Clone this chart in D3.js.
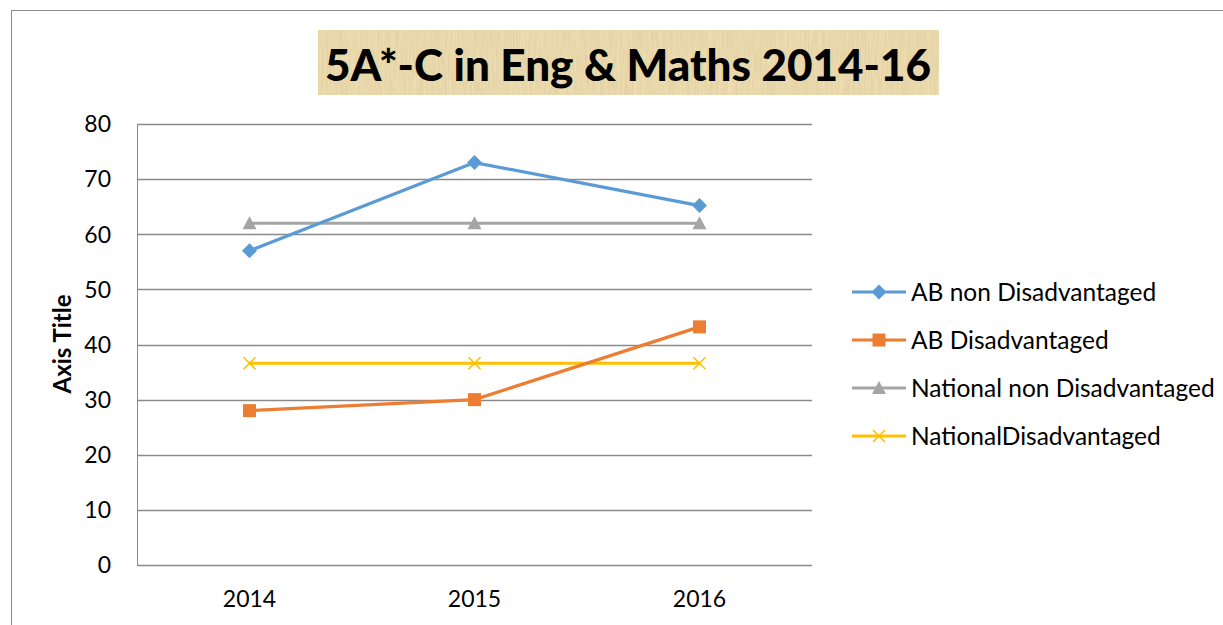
<!DOCTYPE html>
<html>
<head>
<meta charset="utf-8">
<script src="https://cdn.jsdelivr.net/npm/d3@7"></script>
<style>
  body { margin: 0; background: #fff; }
  svg text { font-family: Lato, "Open Sans", sans-serif; fill: #000; }
</style>
</head>
<body>
<div id="chart"></div>
<script>
// dimensions de la page
const width = 1223;
const height = 625;

// données
const years = ["2014", "2015", "2016"];
const abNonDisadv = [57, 73, 65.2];
const abDisadv = [28, 30, 43.2];
const natNonDisadv = [62, 62, 62];
const natDisadv = [36.6, 36.6, 36.6];
const yTicks = [0, 10, 20, 30, 40, 50, 60, 70, 80];

const seriesNames = ["AB non Disadvantaged", "AB Disadvantaged", "National non Disadvantaged", "NationalDisadvantaged"];
const seriesColors = ["#5B9BD5", "#ED7D31", "#A5A5A5", "#FFC000"];
const seriesShapes = ["diamond", "square", "triangle", "cross"];
const seriesValues = [abNonDisadv, abDisadv, natNonDisadv, natDisadv];

const series = seriesNames.map((name, i) => ({
    name: name,
    color: seriesColors[i],
    shape: seriesShapes[i],
    values: seriesValues[i]
}));

const plot = { left: 137, right: 812, top: 124, bottom: 565 };

const svg = d3.select("#chart")
    .append("svg")
    .attr("width", width)
    .attr("height", height);

// texture papyrus pour le titre
const defs = svg.append("defs");
const filt = defs.append("filter").attr("id", "papyrus")
    .attr("x", 0).attr("y", 0).attr("width", 1).attr("height", 1);
filt.append("feTurbulence")
    .attr("type", "fractalNoise")
    .attr("baseFrequency", "0.6 0.04")
    .attr("numOctaves", 3)
    .attr("seed", 4)
    .attr("result", "noise");
filt.append("feColorMatrix")
    .attr("in", "noise")
    .attr("type", "matrix")
    .attr("values", "0 0 0 0 0.6  0 0 0 0 0.48  0 0 0 0 0.25  0 0 0 0.5 0")
    .attr("result", "tint");
filt.append("feComposite").attr("in", "tint").attr("in2", "SourceGraphic").attr("operator", "in");

// cadre extérieur
svg.append("rect")
    .attr("x", 11.5).attr("y", 10.5)
    .attr("width", 1240).attr("height", 640)
    .attr("fill", "#fff")
    .attr("stroke", "#8c8c8c");

// titre
svg.append("rect")
    .attr("x", 318).attr("y", 30).attr("width", 621).attr("height", 65)
    .attr("fill", "#F2E2B6");
svg.append("rect")
    .attr("x", 318).attr("y", 30).attr("width", 621).attr("height", 65)
    .attr("fill", "#fff")
    .attr("filter", "url(#papyrus)");
svg.append("text")
    .attr("x", 628).attr("y", 81)
    .attr("text-anchor", "middle")
    .attr("font-size", 44)
    .attr("font-weight", "900")
    .text("5A*-C in Eng & Maths 2014-16");

// échelles
const x = d3.scaleBand().domain(years).range([plot.left, plot.right]);
const y = d3.scaleLinear().domain([0, 80]).range([plot.bottom, plot.top]);

// grille horizontale
svg.append("g")
    .selectAll("line")
    .data(yTicks)
    .join("line")
    .attr("x1", plot.left).attr("x2", plot.right)
    .attr("y1", d => Math.round(y(d)) + 0.5)
    .attr("y2", d => Math.round(y(d)) + 0.5)
    .attr("stroke", "#8a8a8a")
    .attr("stroke-width", 1.3);

// axe vertical (ligne de gauche)
svg.append("line")
    .attr("x1", plot.left + 0.5).attr("x2", plot.left + 0.5)
    .attr("y1", plot.top).attr("y2", plot.bottom)
    .attr("stroke", "#8a8a8a");

// étiquettes Y
svg.append("g")
    .selectAll("text")
    .data(yTicks)
    .join("text")
    .attr("x", 111)
    .attr("y", d => y(d))
    .attr("dy", "0.36em")
    .attr("text-anchor", "end")
    .attr("font-size", 23)
    .text(d => d);

// étiquettes X
svg.append("g")
    .selectAll("text")
    .data(years)
    .join("text")
    .attr("x", d => x(d) + x.bandwidth() / 2)
    .attr("y", 607)
    .attr("text-anchor", "middle")
    .attr("font-size", 23)
    .text(d => d);

// titre de l'axe
svg.append("text")
    .attr("transform", "translate(71,344) rotate(-90)")
    .attr("text-anchor", "middle")
    .attr("font-size", 24)
    .attr("font-weight", "bold")
    .text("Axis Title");

// marqueurs
function drawMarker(g, shape, color) {
    if (shape === "diamond") {
        g.append("path").attr("d", "M0,-7.5L7.5,0L0,7.5L-7.5,0Z").attr("fill", color);
    } else if (shape === "square") {
        g.append("rect").attr("x", -6.5).attr("y", -6.5).attr("width", 13).attr("height", 13).attr("fill", color);
    } else if (shape === "triangle") {
        g.append("path").attr("d", "M0,-7L7,6L-7,6Z").attr("fill", color);
    } else {
        g.append("path").attr("d", "M-6,-6L6,6M-6,6L6,-6").attr("stroke", color).attr("stroke-width", 1.6).attr("fill", "none");
    }
}

const line = d3.line()
    .x((d, i) => x(years[i]) + x.bandwidth() / 2)
    .y(d => y(d));

// séries (dessinées dans l'ordre inverse pour que la bleue soit au-dessus)
const seriesG = svg.append("g");
series.slice().reverse().forEach(s => {
    const g = seriesG.append("g");
    g.append("path")
        .attr("d", line(s.values))
        .attr("fill", "none")
        .attr("stroke", s.color)
        .attr("stroke-width", 3.2)
        .attr("stroke-linejoin", "round");
    s.values.forEach((v, i) => {
        const m = g.append("g")
            .attr("transform", `translate(${x(years[i]) + x.bandwidth() / 2},${y(v)})`);
        drawMarker(m, s.shape, s.color);
    });
});

// légende
const legend = svg.append("g");
series.forEach((s, i) => {
    const ly = 292 + i * 48;
    const g = legend.append("g").attr("transform", `translate(0,${ly})`);
    g.append("line")
        .attr("x1", 852).attr("x2", 906)
        .attr("stroke", s.color)
        .attr("stroke-width", 3.2);
    const m = g.append("g").attr("transform", "translate(879,0)");
    drawMarker(m, s.shape, s.color);
    g.append("text")
        .attr("x", 911)
        .attr("dy", "0.36em")
        .attr("font-size", 24.5)
        .text(s.name);
});
</script>
</body>
</html>
